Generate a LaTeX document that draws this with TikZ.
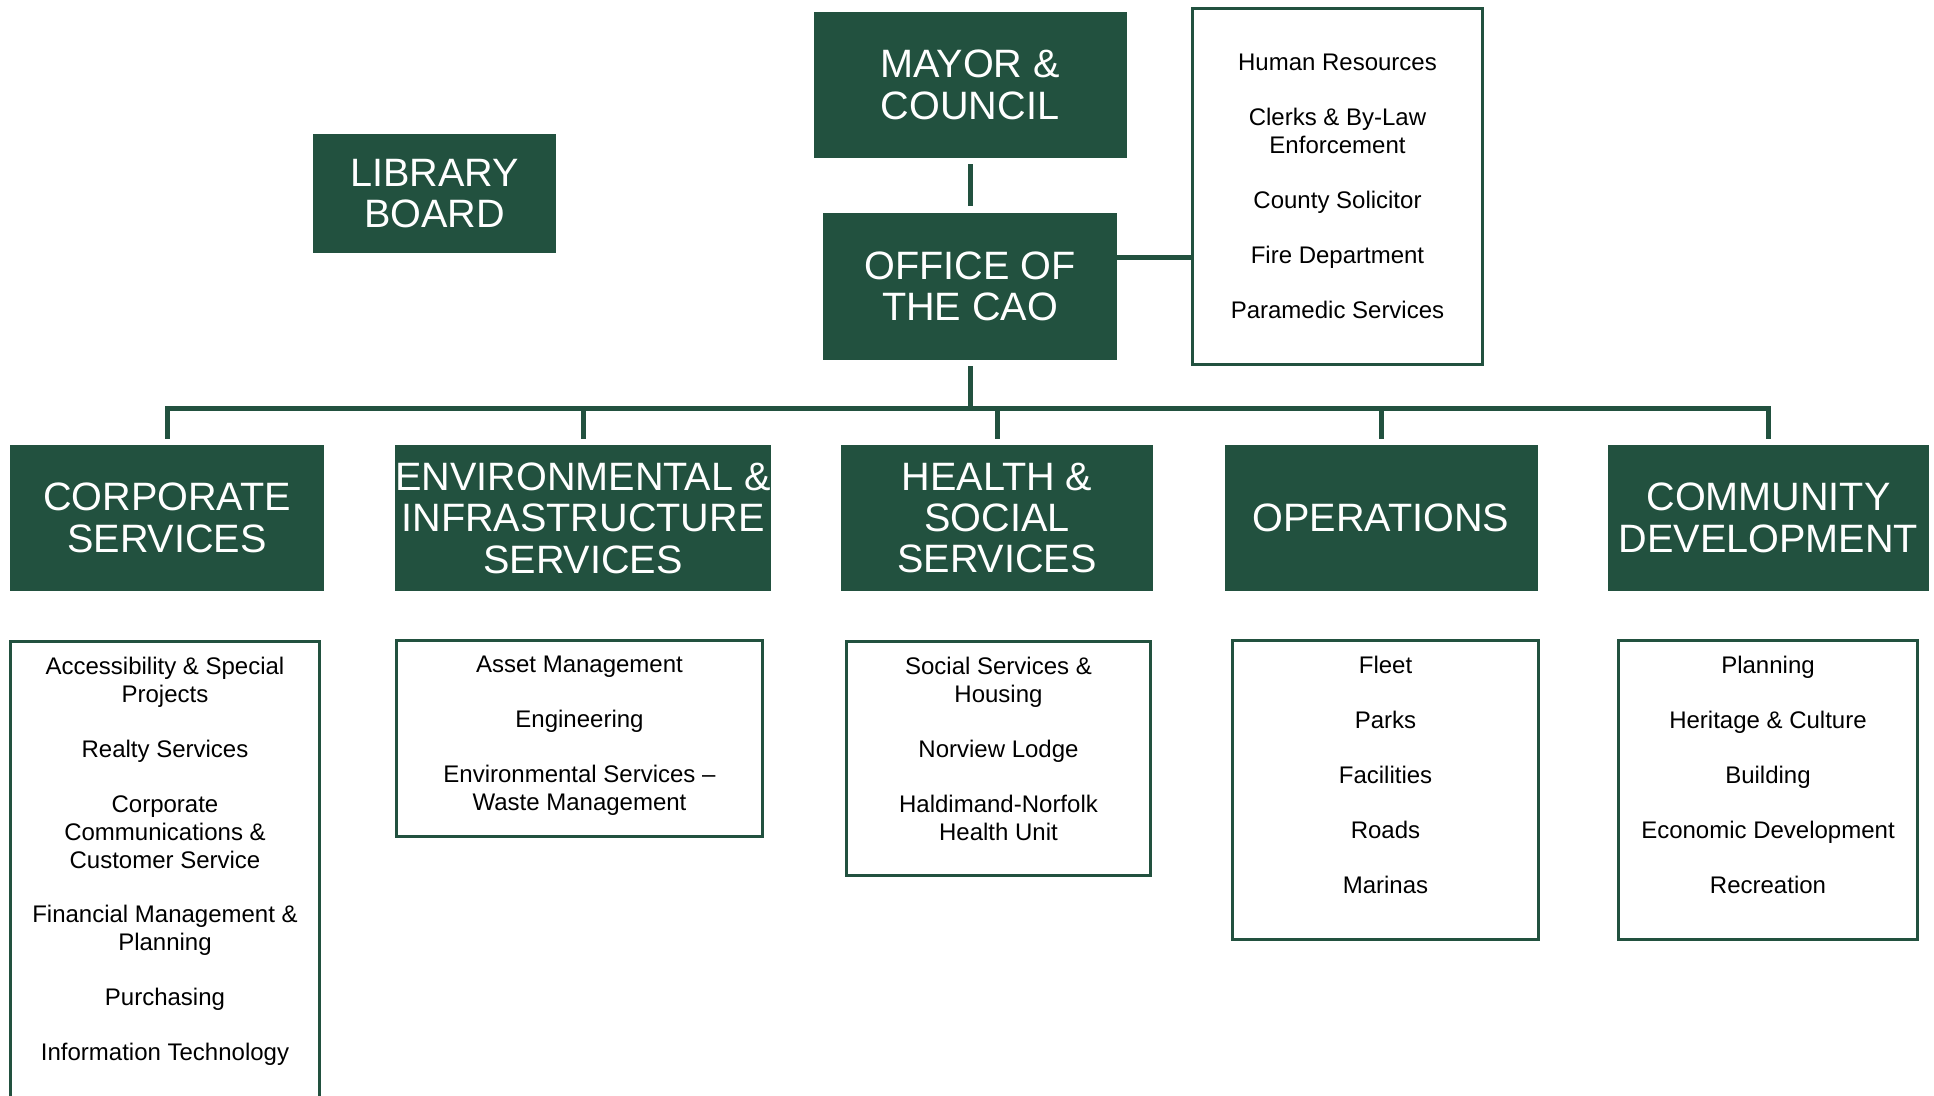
\documentclass[tikz,border=0pt]{standalone}
\usepackage{fontspec}
\setmainfont{Liberation Sans}
\usetikzlibrary{positioning}
\definecolor{hnGreen}{RGB}{34,81,63}

\begin{document}
\begin{tikzpicture}[
    x=0.5pt, y=-0.5pt,
    unit/.style={rectangle, fill=hnGreen, text=white, inner sep=0pt, align=center, font=\fontsize{19.8}{20.7}\selectfont},
    list/.style={rectangle, draw=hnGreen, line width=1.5pt, inner sep=0pt},
    items/.style={align=center, inner sep=0pt, font=\fontsize{12}{13.9}\selectfont},
    link/.style={draw=hnGreen, line width=2.5pt}
]
    \path[use as bounding box, clip] (0,0) rectangle (1934,1096);

    % Council, CAO and library board
    \node[unit, minimum width=156.5pt, minimum height=73pt] (council) at (970,85) {MAYOR \&\\COUNCIL};
    \node[unit, minimum width=147pt, minimum height=73.5pt, below=27pt of council] (cao) {OFFICE OF\\THE CAO};
    \node[unit, minimum width=121.5pt, minimum height=59.5pt] (library) at (434.5,193.5) {LIBRARY\\BOARD};

    % Staff reporting to the CAO
    \node[list, items, minimum width=145pt, minimum height=178pt] (staff) at (1337.5,186.5) {
        Human Resources\\[1.13em]
        Clerks \& By-Law\\Enforcement\\[1.13em]
        County Solicitor\\[1.13em]
        Fire Department\\[1.13em]
        Paramedic Services
    };

    % Departments
    \node[unit, minimum width=157pt, minimum height=73pt] (corp) at (167,518) {CORPORATE\\SERVICES};
    \node[unit, minimum width=188pt, minimum height=73pt] (envinf) at (583,518) {ENVIRONMENTAL \&\\INFRASTRUCTURE\\SERVICES};
    \node[unit, minimum width=156pt, minimum height=73pt] (health) at (997,518) {HEALTH \&\\SOCIAL\\SERVICES};
    \node[unit, minimum width=156.5pt, minimum height=73pt] (ops) at (1381,518) {OPERATIONS};
    \node[unit, minimum width=160.5pt, minimum height=73pt] (commdev) at (1768.5,518) {COMMUNITY\\DEVELOPMENT};

    % Divisions of each department
    \node[list, minimum width=154.5pt, minimum height=238.5pt] (corpList) at (165,880) {};
    \node[items, anchor=north] (corpItems) at ([yshift=-8.5pt]corpList.north) {
        Accessibility \& Special\\Projects\\[1.13em]
        Realty Services\\[1.13em]
        Corporate\\Communications \&\\Customer Service\\[1.13em]
        Financial Management \&\\Planning\\[1.13em]
        Purchasing\\[1.13em]
        Information Technology
    };

    \node[list, minimum width=183pt, minimum height=98pt] (envList) at (579.5,738.5) {};
    \node[items, anchor=north] (envItems) at ([yshift=-8.5pt]envList.north) {
        Asset Management\\[1.13em]
        Engineering\\[1.13em]
        Environmental Services \textendash\\Waste Management
    };

    \node[list, minimum width=152pt, minimum height=117pt] (healthList) at (998.5,758.5) {};
    \node[items, anchor=north] (healthItems) at ([yshift=-8.5pt]healthList.north) {
        Social Services \&\\Housing\\[1.13em]
        Norview Lodge\\[1.13em]
        Haldimand-Norfolk\\Health Unit
    };

    \node[list, minimum width=153pt, minimum height=149.5pt] (opsList) at (1385.5,790) {};
    \node[items, anchor=north] (opsItems) at ([yshift=-8.5pt]opsList.north) {
        Fleet\\[1.13em]
        Parks\\[1.13em]
        Facilities\\[1.13em]
        Roads\\[1.13em]
        Marinas
    };

    \node[list, minimum width=149.5pt, minimum height=149.5pt] (commList) at (1768,790) {};
    \node[items, anchor=north] (commItems) at ([yshift=-8.5pt]commList.north) {
        Planning\\[1.13em]
        Heritage \& Culture\\[1.13em]
        Building\\[1.13em]
        Economic Development\\[1.13em]
        Recreation
    };

    % Connectors
    \coordinate (bus) at (970,409);
    \coordinate (staffLink) at ([yshift=14.25pt]cao.east);
    \draw[link, shorten <=3pt, shorten >=3pt] (council) -- (cao);
    \draw[link] (staffLink) -- (staffLink -| staff.west);
    \draw[link] ([yshift=-3pt]cao.south) -- (bus);
    \draw[link] ([yshift=3pt]corp.north) -- (corp.north |- bus) -- (commdev.north |- bus) -- ([yshift=3pt]commdev.north);
    \foreach \d in {envinf, health, ops}
        \draw[link] (\d.north |- bus) -- ([yshift=3pt]\d.north);
\end{tikzpicture}
\end{document}
